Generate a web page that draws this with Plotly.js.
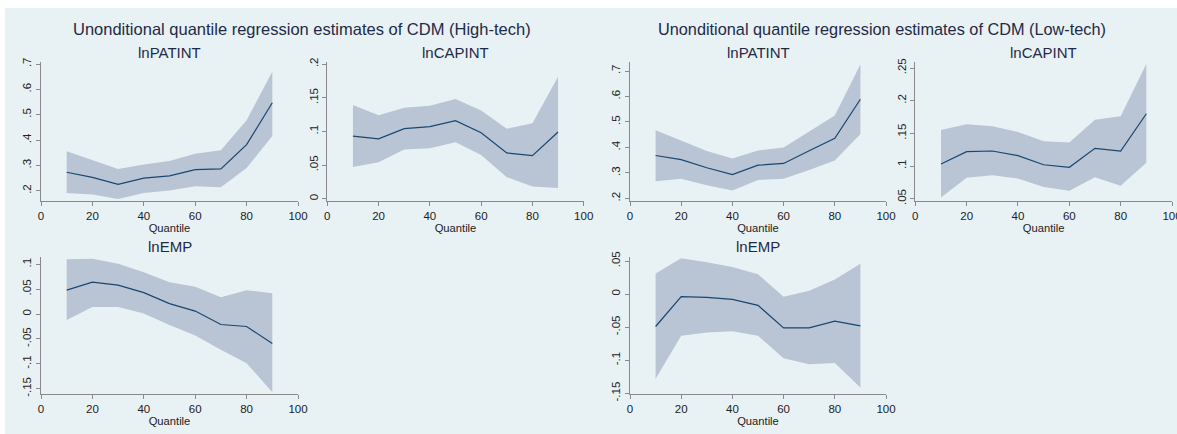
<!DOCTYPE html>
<html>
<head>
<meta charset="utf-8">
<script src="https://cdn.plot.ly/plotly-3.0.1.min.js"></script>
<style>html,body{margin:0;padding:0;background:#fff;}#chart{width:1177px;height:434px;}</style>
</head>
<body>
<div id="chart"></div>
<script>
// ---------- data ----------
const quantiles = [10, 20, 30, 40, 50, 60, 70, 80, 90];
const xTicks = [0, 20, 40, 60, 80, 100];

const mainTitles = ["Unonditional quantile regression estimates of CDM (High-tech)",
                    "Unonditional quantile regression estimates of CDM (Low-tech)"];
const panelNames = ["lnPATINT", "lnCAPINT", "lnPATINT", "lnCAPINT", "lnEMP", "lnEMP"];

// High-tech lnPATINT
const htPatCoef = [0.273, 0.253, 0.225, 0.250, 0.259, 0.283, 0.286, 0.382, 0.547];
const htPatLo   = [0.191, 0.185, 0.167, 0.191, 0.201, 0.218, 0.214, 0.290, 0.416];
const htPatHi   = [0.356, 0.322, 0.286, 0.304, 0.317, 0.346, 0.360, 0.478, 0.670];
// High-tech lnCAPINT
const htCapCoef = [0.093, 0.089, 0.104, 0.107, 0.116, 0.098, 0.068, 0.064, 0.099];
const htCapLo   = [0.047, 0.054, 0.073, 0.075, 0.084, 0.065, 0.032, 0.018, 0.016];
const htCapHi   = [0.139, 0.124, 0.135, 0.138, 0.148, 0.131, 0.104, 0.112, 0.181];
// Low-tech lnPATINT
const ltPatCoef = [0.368, 0.352, 0.320, 0.293, 0.330, 0.337, 0.387, 0.436, 0.589];
const ltPatLo   = [0.267, 0.277, 0.251, 0.231, 0.272, 0.277, 0.311, 0.348, 0.453];
const ltPatHi   = [0.467, 0.426, 0.386, 0.356, 0.388, 0.400, 0.462, 0.525, 0.726];
// Low-tech lnCAPINT
const ltCapCoef = [0.103, 0.122, 0.123, 0.116, 0.102, 0.098, 0.127, 0.123, 0.180];
const ltCapLo   = [0.052, 0.082, 0.086, 0.081, 0.068, 0.062, 0.083, 0.070, 0.105];
const ltCapHi   = [0.155, 0.164, 0.161, 0.152, 0.138, 0.136, 0.171, 0.176, 0.256];
// High-tech lnEMP
const htEmpCoef = [0.048, 0.064, 0.058, 0.043, 0.021, 0.006, -0.021, -0.025, -0.059];
const htEmpLo   = [-0.012, 0.014, 0.014, 0.001, -0.022, -0.043, -0.072, -0.099, -0.157];
const htEmpHi   = [0.110, 0.111, 0.101, 0.084, 0.064, 0.055, 0.034, 0.048, 0.042];
// Low-tech lnEMP
const ltEmpCoef = [-0.049, -0.004, -0.005, -0.008, -0.017, -0.051, -0.051, -0.041, -0.048];
const ltEmpLo   = [-0.128, -0.063, -0.058, -0.056, -0.063, -0.097, -0.106, -0.104, -0.141];
const ltEmpHi   = [0.031, 0.054, 0.048, 0.041, 0.030, -0.004, 0.005, 0.022, 0.046];

// y tick values
const yTicksPat    = [0.2, 0.3, 0.4, 0.5, 0.6, 0.7];
const yTicksHtCap  = [0, 0.05, 0.1, 0.15, 0.2];
const yTicksLtCap  = [0.05, 0.1, 0.15, 0.2, 0.25];
const yTicksHtEmp  = [-0.15, -0.1, -0.05, 0, 0.05, 0.1];
const yTicksLtEmp  = [-0.15, -0.1, -0.05, 0, 0.05];

// ---------- layout / styling ----------
const W = 1177, H = 434;
const BG = "rgb(232,241,243)";
const LINE = "#1a476f";
const AREA = "rgb(185,196,213)";
const GRID = "rgb(232,240,242)";
const AXIS = "#8a8a8a";
const TITLE = "#1f2a47";
const FONT = "Liberation Sans, Arial, sans-serif";

function xd(a, b) { return [a / W, b / W]; }
function yd(top, bot) { return [1 - bot / H, 1 - top / H]; }
function lab(v) { return v === 0 ? "0" : String(v).replace("0.", "."); }

const panels = [
  {coef: htPatCoef, lo: htPatLo, hi: htPatHi, yt: yTicksPat,   px: [41, 298],      py: [62, 201],  yr: [0.1596, 0.708]},
  {coef: htCapCoef, lo: htCapLo, hi: htCapHi, yt: yTicksHtCap, px: [327.3, 583.7], py: [62, 201],  yr: [-0.0034, 0.203]},
  {coef: ltPatCoef, lo: ltPatLo, hi: ltPatHi, yt: yTicksPat,   px: [630, 886],     py: [62, 201],  yr: [0.1894, 0.7354]},
  {coef: ltCapCoef, lo: ltCapLo, hi: ltCapHi, yt: yTicksLtCap, px: [915.3, 1172],  py: [62, 201],  yr: [0.0465, 0.2592]},
  {coef: htEmpCoef, lo: htEmpLo, hi: htEmpHi, yt: yTicksHtEmp, px: [41, 298],      py: [256.5, 394], yr: [-0.1607, 0.1157]},
  {coef: ltEmpCoef, lo: ltEmpLo, hi: ltEmpHi, yt: yTicksLtEmp, px: [630, 886],     py: [256.5, 394], yr: [-0.151, 0.0568]}
];

const traces = [];
const layout = {
  width: W, height: H,
  margin: {l: 0, r: 0, t: 0, b: 0},
  paper_bgcolor: "#ffffff",
  plot_bgcolor: "#ffffff",
  showlegend: false,
  font: {family: FONT, color: "#222"},
  shapes: [{type: "rect", xref: "paper", yref: "paper", x0: 5 / W, x1: 1, y0: 0, y1: 1 - 8 / H,
            fillcolor: BG, line: {width: 0}, layer: "below"}],
  annotations: []
};

panels.forEach((p, i) => {
  const n = i + 1;
  const xa = n === 1 ? "x" : "x" + n, ya = n === 1 ? "y" : "y" + n;
  traces.push({x: quantiles, y: p.lo, xaxis: xa, yaxis: ya, type: "scatter", mode: "lines",
               line: {width: 0, color: AREA}, hoverinfo: "skip"});
  traces.push({x: quantiles, y: p.hi, xaxis: xa, yaxis: ya, type: "scatter", mode: "lines",
               line: {width: 0, color: AREA}, fill: "tonexty", fillcolor: AREA, hoverinfo: "skip"});
  traces.push({x: quantiles, y: p.coef, xaxis: xa, yaxis: ya, type: "scatter", mode: "lines",
               line: {width: 1.2, color: LINE}});
  layout["xaxis" + (n === 1 ? "" : n)] = {
    domain: xd(p.px[0], p.px[1]), anchor: ya, range: [0, 100],
    tickvals: xTicks, ticktext: xTicks.map(String), ticklabeloverflow: "allow",
    showgrid: false, zeroline: false, showline: true, linecolor: AXIS, linewidth: 1,
    ticks: "outside", ticklen: 4, tickcolor: AXIS, tickfont: {size: 11.5, color: "#222", family: FONT},
    title: {text: "Quantile", font: {size: 11.2, color: "#222", family: FONT}, standoff: 0}
  };
  layout["yaxis" + (n === 1 ? "" : n)] = {
    domain: yd(p.py[0], p.py[1]), anchor: xa, range: p.yr,
    tickvals: p.yt, ticktext: p.yt.map(lab), tickangle: -90, ticklabeloverflow: "allow",
    showgrid: true, gridcolor: GRID, gridwidth: 1, zeroline: false,
    showline: true, linecolor: AXIS, linewidth: 1,
    ticks: "outside", ticklen: 4, tickcolor: AXIS, tickfont: {size: 11.5, color: "#222", family: FONT}
  };
  layout.annotations.push({
    text: panelNames[i], xref: "paper", yref: "paper",
    x: (p.px[0] + p.px[1]) / 2 / W, y: 1 - (p.py[0] - 10) / H,
    xanchor: "center", yanchor: "middle", showarrow: false,
    font: {size: 15, color: TITLE, family: FONT}
  });
});

layout.annotations.push({text: mainTitles[0], xref: "paper", yref: "paper", x: 302 / W, y: 1 - 29.5 / H,
  xanchor: "center", yanchor: "middle", showarrow: false, font: {size: 16.5, color: TITLE, family: FONT}});
layout.annotations.push({text: mainTitles[1], xref: "paper", yref: "paper", x: 882 / W, y: 1 - 29.5 / H,
  xanchor: "center", yanchor: "middle", showarrow: false, font: {size: 16.3, color: TITLE, family: FONT}});

Plotly.newPlot("chart", traces, layout, {staticPlot: true, displayModeBar: false});
</script>
</body>
</html>
